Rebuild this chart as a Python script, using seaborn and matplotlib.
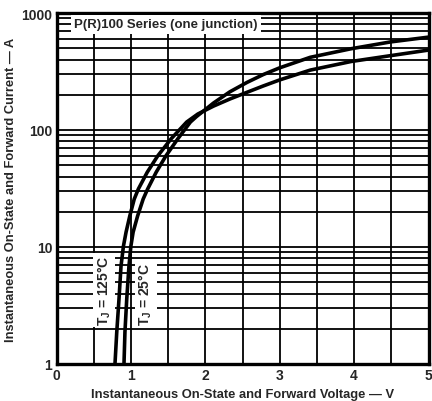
import numpy as np
import pandas as pd
import matplotlib
matplotlib.use("Agg")
import matplotlib.pyplot as plt
import seaborn as sns

# forward characteristic
v_125 = [0.786, 0.81, 0.84, 0.867, 0.90, 0.935, 0.985, 1.045, 1.10, 1.22, 1.36, 1.54, 1.75,
         1.90, 2.11, 2.33, 2.56, 2.78, 3.0, 3.41, 3.96, 4.49, 5.0]
i_125 = [1.0, 1.88, 3.59, 6.87, 10.2, 13.4, 18.4, 25.7, 31.3, 43.6, 60, 84, 117,
         137, 160, 184, 210, 238, 268, 325, 385, 432, 482]
v_25 = [0.907, 0.92, 0.944, 0.974, 1.0, 1.03, 1.09, 1.165, 1.225, 1.34, 1.47, 1.63, 1.80,
        1.88, 2.11, 2.33, 2.56, 2.78, 3.0, 3.41, 3.96, 4.49, 5.0]
i_25 = [1.0, 1.88, 3.59, 6.87, 10.2, 13.4, 18.4, 25.7, 31.3, 43.6, 60, 84, 117,
        130, 170, 212, 255, 298, 340, 418, 495, 566, 622]

x_ticks = [0, 1, 2, 3, 4, 5]
y_ticks = [1, 10, 100, 1000]
y_ticklabels = ["1", "10", "100", "1000"]

title = "P(R)100 Series (one junction)"
xlabel = "Instantaneous On-State and Forward Voltage \u2014 V"
ylabel = "Instantaneous On-State and Forward Current \u2014 A"

df = pd.concat([
    pd.DataFrame({"V": v_125, "I": i_125, "Tj": "125"}),
    pd.DataFrame({"V": v_25, "I": i_25, "Tj": "25"}),
])

sns.set_style("white")
plt.rcParams["font.family"] = ["Liberation Sans", "DejaVu Sans"]
plt.rcParams["mathtext.default"] = "regular"

fig = plt.figure(figsize=(4.32, 4.02), dpi=100)
ax = fig.add_axes([56.5 / 432, 37 / 402, 372 / 432, 351 / 402])

sns.lineplot(data=df, x="V", y="I", hue="Tj", palette=["black", "black"],
             linewidth=2.6, legend=False, sort=False, estimator=None, ax=ax, zorder=5)

ax.set_yscale("log")
ax.set_xlim(0, 5)
ax.set_ylim(1, 1000)

# grid: every 0.5 V, every 1..9 per decade
for xv in np.arange(0.5, 5, 0.5):
    ax.axvline(xv, color="black", lw=1.3, zorder=1)
for dec in [1, 10, 100]:
    for k in range(2, 10):
        ax.axhline(dec * k, color="black", lw=1.3, zorder=1)
for yv in [10, 100]:
    ax.axhline(yv, color="black", lw=1.3, zorder=1)

ax.set_xticks(x_ticks)
ax.set_xticklabels([str(t) for t in x_ticks], fontsize=10, fontweight="bold")
ax.set_yticks(y_ticks)
ax.set_yticklabels(y_ticklabels, fontsize=10, fontweight="bold")
ax.yaxis.set_minor_locator(matplotlib.ticker.NullLocator())
ax.tick_params(length=0, pad=3)

for s in ax.spines.values():
    s.set_linewidth(2.4)
    s.set_color("black")

ax.set_xlabel(xlabel, fontsize=9.3, fontweight="bold", labelpad=4)
ax.set_ylabel(ylabel, fontsize=9.3, fontweight="bold", labelpad=3)

ax.text(1.47, 800, title, ha="center", va="center", fontsize=9.5, fontweight="bold",
        bbox=dict(facecolor="white", edgecolor="none", pad=2.5), zorder=6)

ax.text(0.64, 4.3, "T$_J$ = 125\u00b0C", rotation=90, ha="center", va="center",
        fontsize=10, fontweight="bold",
        bbox=dict(facecolor="white", edgecolor="none", pad=1.5), zorder=6)
ax.text(1.20, 4.0, "T$_J$ = 25\u00b0C", rotation=90, ha="center", va="center",
        fontsize=10, fontweight="bold",
        bbox=dict(facecolor="white", edgecolor="none", pad=1.5), zorder=6)

fig.savefig("out.png", dpi=100)
